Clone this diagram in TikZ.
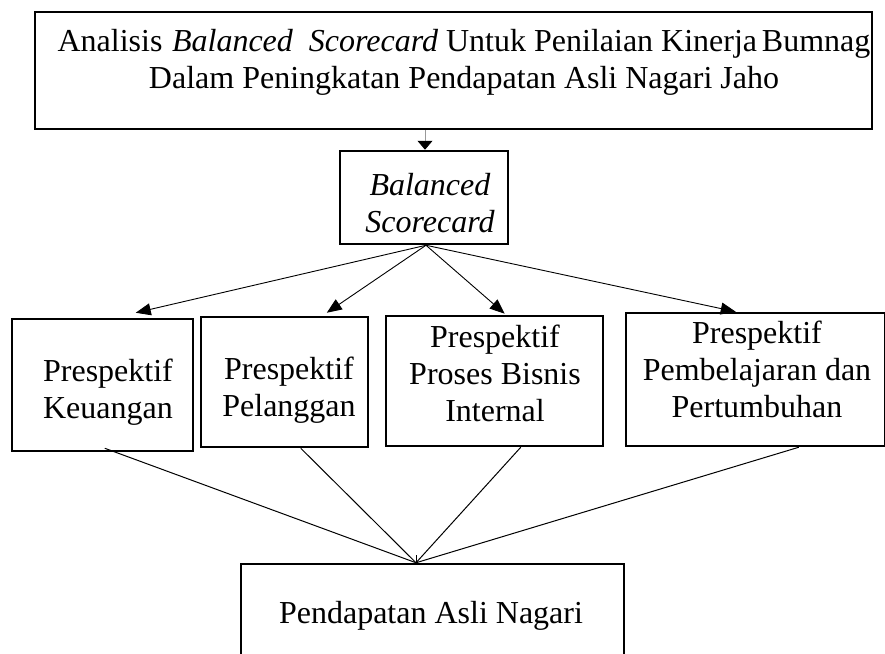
\documentclass[tikz,border=0pt]{standalone}
\usepackage{fontspec}
\setmainfont{Liberation Serif}
\usetikzlibrary{arrows.meta,calc}
\begin{document}
\begin{tikzpicture}[x=1pt,y=-1pt,
  box/.style={draw, line width=2.5pt, inner sep=0pt},
  txt/.style={font=\fontsize{32}{37}\selectfont, align=center, inner sep=0pt},
  conn/.style={line width=1pt},
  arr/.style={line width=0.9pt, -{Triangle[length=15pt,width=12pt]}}]
\useasboundingbox (0,0) rectangle (885,653);
\clip (0,0) rectangle (885,653);
% boxes
\node[box, minimum width=837pt, minimum height=117pt] (top) at (453.5,70.5) {};
\node[box, minimum width=168pt, minimum height=93pt] (bsc) at (424,197.5) {};
\node[box, minimum width=181pt, minimum height=132pt] (k) at (102.5,385) {};
\node[box, minimum width=167pt, minimum height=130pt] (p) at (284.5,382) {};
\node[box, minimum width=217pt, minimum height=130pt] (b) at (494.5,381) {};
\node[box, minimum width=259pt, minimum height=133pt] (g) at (755.5,379.5) {};
\node[box, minimum width=383pt, minimum height=136pt] (pan) at (432.5,632) {};
% texts
\node[txt] (topt) at (464,62.5) {Analisis\hspace{0.05em} \textit{Balanced\ \ Scorecard} Untuk Penilaian Kinerja\hspace{0.15em}Bumnag\\Dalam Peningkatan Pendapatan Asli Nagari Jaho};
\node[txt] (bsct) at (430,203.5) {\textit{Balanced}\\\textit{Scorecard}};
\node[txt] (kt) at (108,392.5) {Prespektif\\Keuangan};
\node[txt] (pt) at (289,390.5) {Prespektif\\Pelanggan};
\node[txt] (bt) at (495,373) {Prespektif\\Proses Bisnis\\Internal};
\node[txt] (gt) at (757,369.5) {Prespektif\\Pembelajaran dan\\Pertumbuhan};
\node[txt] (pant) at (431,615.5) {Pendapatan Asli Nagari};
% connectors
\draw[line width=1pt, gray!80, -{Triangle[length=9pt,width=15pt,black]}]
  ([xshift=-28.5pt]top.south) -- ([xshift=1pt]bsc.north);
\coordinate (bs) at ([xshift=2pt]bsc.south);
\draw[arr] (bs) -- ([xshift=125pt,yshift=5pt]k.north west);
\draw[arr] (bs) -- ([xshift=127pt,yshift=3pt]p.north west);
\draw[arr] (bs) -- ([xshift=120pt,yshift=1pt]b.north west);
\draw[arr] (bs) -- ([xshift=111pt,yshift=0pt]g.north west);
\coordinate (cv) at ([xshift=-16.5pt]pan.north);
\draw[conn] ([xshift=94pt,yshift=4pt]k.south west) -- (cv);
\draw[conn] ([xshift=101pt]p.south west) -- (cv);
\draw[conn] ([xshift=136pt]b.south west) -- (cv);
\draw[conn] ([xshift=174pt]g.south west) -- (cv);
\draw[conn] (cv) -- ++(0,-8);
\end{tikzpicture}
\end{document}
